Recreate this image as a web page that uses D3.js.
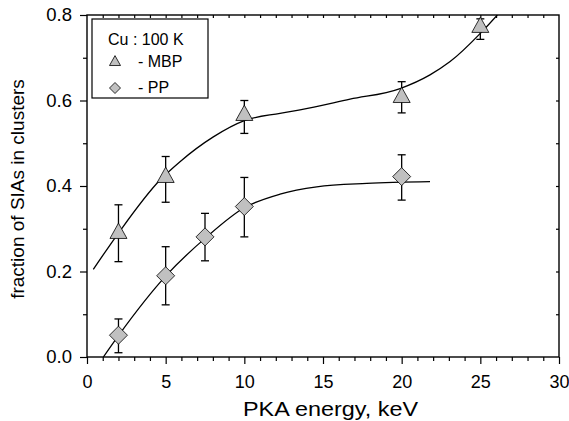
<!DOCTYPE html>
<html><head><meta charset="utf-8">
<script src="https://cdn.jsdelivr.net/npm/d3@7"></script>
<style>
body{margin:0;background:#fff;}
text{font-family:"Liberation Sans",Arial,Helvetica,sans-serif;fill:#000;}
</style></head>
<body>
<svg id="c" width="569" height="421"></svg>
<script>
// ---- data ----
const mbpX = [2, 5, 10, 20, 25];
const mbpY = [0.290, 0.421, 0.566, 0.608, 0.772];
const mbpHi = [0.356, 0.469, 0.600, 0.644, 0.791];
const mbpLo = [0.223, 0.362, 0.523, 0.571, 0.743];

const ppX = [2, 5, 7.5, 10, 20];
const ppY = [0.051, 0.190, 0.281, 0.352, 0.422];
const ppHi = [0.089, 0.258, 0.336, 0.420, 0.473];
const ppLo = [0.010, 0.122, 0.225, 0.281, 0.367];

const mbpFitX = [0.40, 2, 4.64, 5.91, 8.03, 10, 12.27, 13.54, 16.72, 19.9, 21.8, 23.08, 25, 26.08];
const mbpFitY = [0.205, 0.290, 0.414, 0.457, 0.515, 0.553, 0.570, 0.578, 0.603, 0.628, 0.660, 0.691, 0.757, 0.800];
const ppFitX = [1.04, 2, 5.07, 7.61, 9.94, 12.27, 14.6, 17.78, 21.8];
const ppFitY = [0.0, 0.050, 0.192, 0.281, 0.348, 0.381, 0.398, 0.406, 0.410];

const xTicks = [0, 5, 10, 15, 20, 25, 30];
const yTicks = [0.0, 0.2, 0.4, 0.6, 0.8];
const legendTitle = "Cu : 100 K";
const legendLabels = ["- MBP", "- PP"];
const xTitle = "PKA energy, keV";
const yTitle = "fraction of SIAs in clusters";

// ---- layout ----
const L = 87, R = 559, T = 15, B = 357;
const svg = d3.select("#c");
const x = d3.scaleLinear().domain([0, 30]).range([L, R]);
const y = d3.scaleLinear().domain([0, 0.8]).range([B, T]);
const fill = "#c0c0c0";

svg.append("defs").append("clipPath").attr("id", "clip")
  .append("rect").attr("x", L).attr("y", T).attr("width", R - L).attr("height", B - T);

// axes
function styleAxis(g){ g.select(".domain").remove(); g.selectAll("line").attr("stroke","#000").attr("stroke-width",1.2); }
const minorX = d3.range(0, 31, 1).filter(v => v % 5 !== 0);
const minorY = d3.range(0, 9).map(i => i / 10).filter((v,i) => i % 2 === 1);

svg.append("g").attr("transform", `translate(0,${B})`)
  .call(d3.axisBottom(x).tickValues(xTicks).tickSize(7).tickPadding(11).tickFormat(d3.format("d")))
  .call(styleAxis).call(g => g.selectAll("text").attr("font-size", 18));
svg.append("g").attr("transform", `translate(0,${B})`)
  .call(d3.axisBottom(x).tickValues(minorX).tickSize(4).tickFormat(""))
  .call(styleAxis);
svg.append("g").attr("transform", `translate(${L},0)`)
  .call(d3.axisLeft(y).tickValues(yTicks).tickSize(7).tickPadding(8).tickFormat(d3.format(".1f")))
  .call(styleAxis).call(g => g.selectAll("text").attr("font-size", 18.5));
svg.append("g").attr("transform", `translate(${L},0)`)
  .call(d3.axisLeft(y).tickValues(minorY).tickSize(4).tickFormat(""))
  .call(styleAxis);
svg.append("g").attr("transform", `translate(0,${T})`)
  .call(d3.axisTop(x).tickValues(d3.range(1, 30)).tickSize(-3).tickFormat(""))
  .call(styleAxis);
svg.append("g").attr("transform", `translate(${R},0)`)
  .call(d3.axisRight(y).tickValues(d3.range(1, 8).map(i => i / 10)).tickSize(-3).tickFormat(""))
  .call(styleAxis);
svg.append("rect").attr("x", L).attr("y", T).attr("width", R - L).attr("height", B - T)
  .attr("fill", "none").attr("stroke", "#000").attr("stroke-width", 1.4);

// titles
svg.append("text").attr("x", 243).attr("y", 415.5)
  .attr("font-size", 20).attr("textLength", 175).attr("lengthAdjust", "spacingAndGlyphs").text(xTitle);
svg.append("text").attr("transform", "translate(24,189) rotate(-90)").attr("text-anchor", "middle")
  .attr("font-size", 19).text(yTitle);

// fit curves
const line = d3.line().x(d => x(d[0])).y(d => y(d[1])).curve(d3.curveMonotoneX);
const cg = svg.append("g").attr("clip-path", "url(#clip)");
[[mbpFitX, mbpFitY], [ppFitX, ppFitY]].forEach(([xs, ys]) => {
  cg.append("path").attr("d", line(xs.map((v, i) => [v, ys[i]])))
    .attr("fill", "none").attr("stroke", "#000").attr("stroke-width", 1.3);
});

// error bars
function errBars(xs, hi, lo){
  const g = svg.append("g").attr("stroke", "#000").attr("stroke-width", 1.3);
  xs.forEach((v, i) => {
    const px = x(v);
    g.append("line").attr("x1", px).attr("x2", px).attr("y1", y(hi[i])).attr("y2", y(lo[i]));
    [hi[i], lo[i]].forEach(e => g.append("line").attr("x1", px - 4).attr("x2", px + 4).attr("y1", y(e)).attr("y2", y(e)));
  });
}
errBars(mbpX, mbpHi, mbpLo);
errBars(ppX, ppHi, ppLo);

// markers
const tri = (s) => `M0,${-s*0.58}L${s*0.5},${s*0.32}L${-s*0.5},${s*0.32}Z`;
const dia = (s) => `M0,${-s/2}L${s/2},0L0,${s/2}L${-s/2},0Z`;
mbpX.forEach((v, i) => svg.append("path").attr("d", tri(17))
  .attr("transform", `translate(${x(v)},${y(mbpY[i])})`)
  .attr("fill", fill).attr("stroke", "#000").attr("stroke-width", 0.8));
ppX.forEach((v, i) => svg.append("path").attr("d", dia(18))
  .attr("transform", `translate(${x(v)},${y(ppY[i])})`)
  .attr("fill", fill).attr("stroke", "#000").attr("stroke-width", 0.8));

// legend
const lg = svg.append("g");
lg.append("rect").attr("x", 92).attr("y", 19).attr("width", 116).attr("height", 79)
  .attr("fill", "#fff").attr("stroke", "#000").attr("stroke-width", 1.2);
lg.append("text").attr("x", 108).attr("y", 45).attr("font-size", 16).text(legendTitle);
lg.append("path").attr("d", tri(11)).attr("transform", "translate(115,62)")
  .attr("fill", fill).attr("stroke", "#000").attr("stroke-width", 0.8);
lg.append("text").attr("x", 138).attr("y", 67).attr("font-size", 16).text(legendLabels[0]);
lg.append("path").attr("d", dia(11)).attr("transform", "translate(115,88)")
  .attr("fill", fill).attr("stroke", "#000").attr("stroke-width", 0.8);
lg.append("text").attr("x", 138).attr("y", 93).attr("font-size", 16).text(legendLabels[1]);
</script>
</body></html>
